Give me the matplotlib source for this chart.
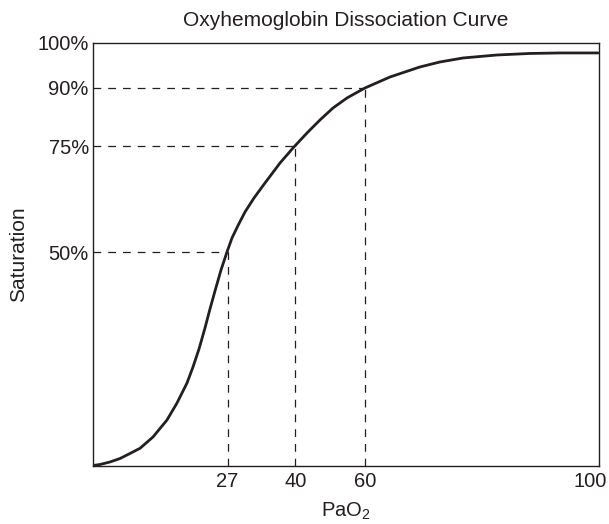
import matplotlib
matplotlib.use("Agg")
import matplotlib.pyplot as plt
from matplotlib.transforms import ScaledTranslation

plt.rcParams['font.family'] = ['Liberation Sans', 'DejaVu Sans']
plt.rcParams['mathtext.default'] = 'regular'

INK = '#231f20'

# Curve (x in schematic PaO2 axis units, y in % saturation)
curve_x = [0.00, 1.38, 3.36, 5.34, 7.31, 9.29, 11.86, 14.62, 16.60, 18.58,
           19.76, 20.95, 22.13, 23.12, 24.11, 25.30, 26.48, 27.47, 28.66,
           30.04, 31.82, 33.99, 36.96, 39.53, 42.29, 44.86, 47.43, 50.20,
           53.75, 58.70, 64.62, 68.58, 73.12, 79.84, 86.36, 92.29, 99.80]
curve_y = [0.12, 0.35, 0.95, 1.77, 2.96, 4.18, 6.86, 10.87, 14.89, 19.62,
           23.40, 27.66, 32.62, 37.12, 41.37, 46.34, 50.59, 53.90, 56.85,
           60.05, 63.36, 66.90, 71.63, 75.18, 78.72, 81.80, 84.63, 87.00,
           89.36, 91.96, 94.33, 95.51, 96.45, 97.16, 97.52, 97.64, 97.64]

# Reference points (schematic positions) and their labels
ref_x = [26.6, 40.0, 53.8]
ref_y = [50.5, 75.6, 89.4]
x_tick_pos = [26.6, 40.0, 53.8, 100]
x_tick_labels = ['27', '40', '60', '100']
y_tick_pos = [50.5, 75.6, 89.4, 100]
y_tick_labels = ['50%', '75%', '90%', '100%']

fig = plt.figure(figsize=(6.09, 5.24), dpi=100)
ax = fig.add_axes([0.1527, 0.1107, 0.8309, 0.8073])

dash = (0, (6.2, 5.6))
for xv, yv in zip(ref_x, ref_y):
    ax.plot([0, xv], [yv, yv], color=INK, lw=0.9, linestyle=dash)
    ax.plot([xv, xv], [0, yv], color=INK, lw=0.9, linestyle=dash)

ax.plot(curve_x, curve_y, color=INK, lw=2.0, solid_capstyle='round',
        solid_joinstyle='round')

ax.set_xlim(0, 100)
ax.set_ylim(0, 100)
ax.set_xticks(x_tick_pos)
ax.set_xticklabels(x_tick_labels)
ax.set_yticks(y_tick_pos)
ax.set_yticklabels(y_tick_labels)
ax.tick_params(axis='x', length=0, pad=4, labelsize=14.5, colors=INK)
ax.tick_params(axis='y', length=0, pad=3, labelsize=14.5, colors=INK)
last = ax.get_xticklabels()[-1]
last.set_transform(last.get_transform() + ScaledTranslation(-0.09, 0, fig.dpi_scale_trans))
for s in ax.spines.values():
    s.set_color(INK)
    s.set_linewidth(1.0)

ax.set_title('Oxyhemoglobin Dissociation Curve', fontsize=15, color=INK, pad=12)
ax.set_xlabel('PaO$_2$', fontsize=14.5, color=INK, labelpad=7)
ax.set_ylabel('Saturation', fontsize=15, color=INK, labelpad=7)

fig.savefig('out.png', dpi=100)
